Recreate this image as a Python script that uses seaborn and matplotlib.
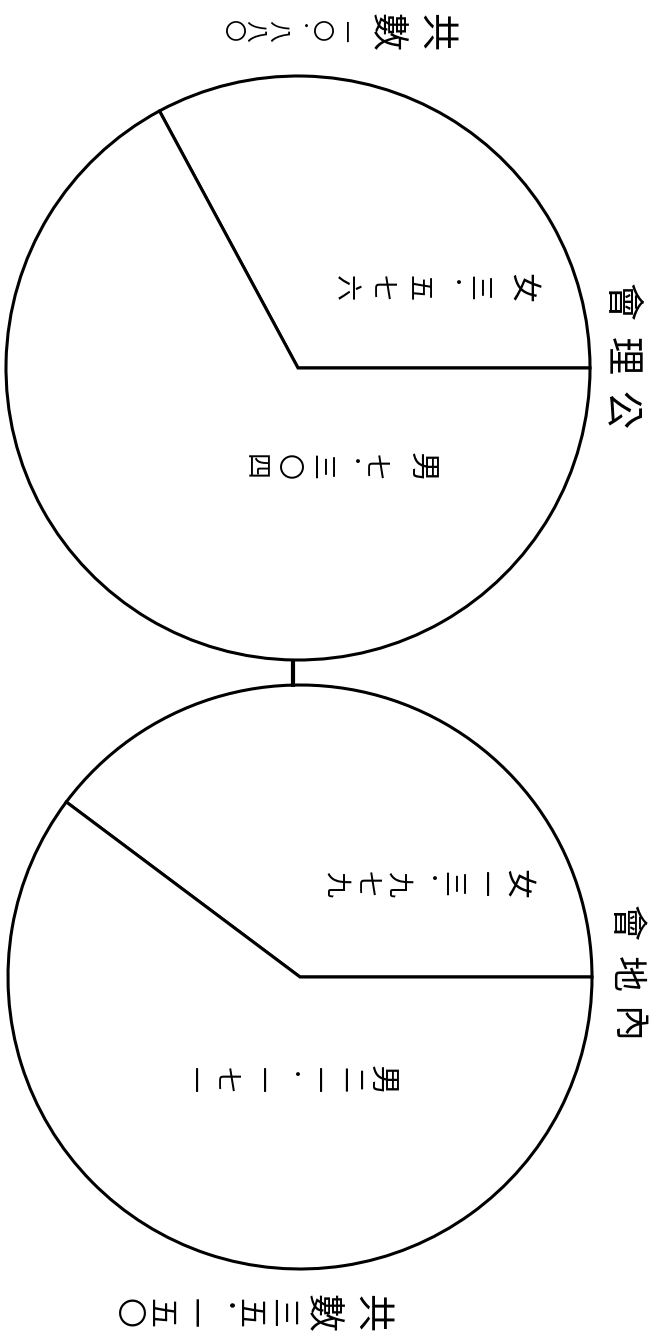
import matplotlib
matplotlib.use("Agg")
import matplotlib.pyplot as plt
import seaborn as sns
import pandas as pd

# ---- data ----
missions = ["公理會", "內地會"]
male = [7304, 21171]
female = [3576, 13979]

sns.set_theme(style="white")
plt.rcParams["font.family"] = ["Noto Sans CJK TC", "DejaVu Sans"]

DIGITS = "〇一二三四五六七八九"


def cnum(n):
    s = f"{int(n):,}".replace(",", "·")
    return "".join(DIGITS[int(c)] if c.isdigit() else c for c in s)


df = pd.DataFrame({"mission": missions, "male": male, "female": female})
df["total"] = df["male"] + df["female"]

W, H = 649, 1340
fig = plt.figure(figsize=(W / 100, H / 100), dpi=100)
ax = fig.add_axes([0, 0, 1, 1])

# layout (image pixel coordinates, y downward)
centers = [(298, 368), (300, 977)]
R = 292
LW = 2.2

for (cx, cy), (_, row) in zip(centers, df.iterrows()):
    ax.pie([row["female"], row["male"]], center=(cx, H - cy), radius=R,
           startangle=0, counterclock=True, colors=["white", "white"],
           wedgeprops=dict(edgecolor="black", linewidth=LW), frame=False)

# short connector between the two circles
ax.plot([293, 293], [H - 659, H - 687], color="black", lw=3.0,
        solid_capstyle="butt")


def pt(px):
    return px * 72 / 100


def place(chars, x, y, pitch, px, direction=(-1, 0), dot=0.6):
    pos = 0.0
    prev_w = None
    for ch in chars:
        is_dot = ch == "·"
        w = dot if is_dot else 1.0
        if prev_w is not None:
            pos += pitch * (prev_w + w) / 2
        glyph = "・" if is_dot else ch
        size = px * 0.7 if is_dot else px
        ax.text(x + direction[0] * pos, H - (y + direction[1] * pos), glyph,
                rotation=-90, ha="center", va="center", fontsize=pt(size),
                color="black")
        prev_w = w


# text layout
tot_layout = [
    dict(pre=(435, 32), pre_pitch=50, pre_size=38,
         num=(343, 31), pitch=23, size=22, dot=0.85),
    dict(pre=(371, 1313), pre_pitch=50, pre_size=38,
         num=(282, 1313), pitch=33, size=30, dot=0.7),
]
fem_layout = [
    dict(pre=(522, 288), num=(478, 288), pitch=37, dot=0.6),
    dict(pre=(517, 884), num=(483, 884), pitch=31, dot=0.75),
]
male_layout = [
    dict(pre=(420, 467), num=(375, 467), pitch=33, dot=0.65),
    dict(pre=(380, 1080), num=(350, 1080), pitch=34, dot=0.65),
]
name_layout = [
    dict(start=(620, 410), pitch=54, size=38),
    dict(start=(625, 1025), pitch=51, size=36),
]

for i, (_, row) in enumerate(df.iterrows()):
    t = tot_layout[i]
    place("共數", *t["pre"], t["pre_pitch"], t["pre_size"])
    place(cnum(row["total"]), *t["num"], t["pitch"], t["size"], dot=t["dot"])

    f = fem_layout[i]
    place("女", *f["pre"], 0, 30)
    place(cnum(row["female"]), *f["num"], f["pitch"], 26, dot=f["dot"])

    m = male_layout[i]
    place("男", *m["pre"], 0, 30)
    place(cnum(row["male"]), *m["num"], m["pitch"], 26, dot=m["dot"])

    n = name_layout[i]
    place(row["mission"], *n["start"], n["pitch"], n["size"], direction=(0, -1))

ax.set_xlim(0, W)
ax.set_ylim(0, H)
ax.set_aspect("equal")
ax.axis("off")

fig.savefig("out.png", dpi=100, facecolor="white")
